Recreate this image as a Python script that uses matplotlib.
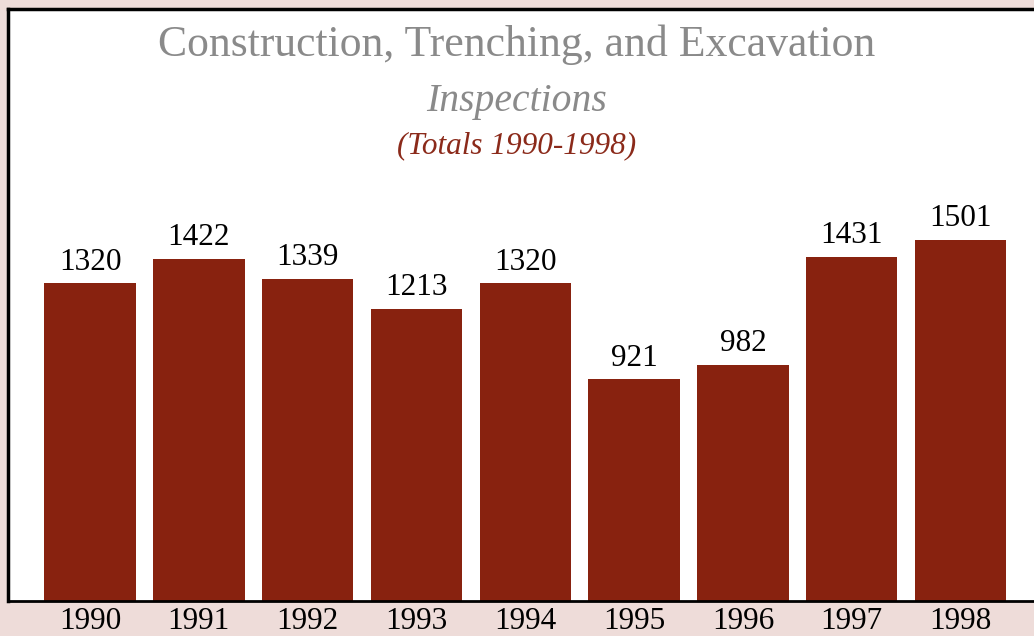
import matplotlib.pyplot as plt
import numpy as np

years = ['1990', '1991', '1992', '1993', '1994', '1995', '1996', '1997', '1998']
inspections = [1320, 1422, 1339, 1213, 1320, 921, 982, 1431, 1501]

W, H = 1034, 636
bg = '#eedcd9'
bar_col = '#88220f'

plt.rcParams['font.family'] = ['Liberation Serif', 'DejaVu Serif']

fig = plt.figure(figsize=(W / 100, H / 100), dpi=100, facecolor=bg)
# axes box: left edge ~8px, top ~9px, bottom ~601px, runs past right edge
ax = fig.add_axes([8 / W, (H - 601) / H, 1040 / W - 8 / W, (601 - 9) / H])
ax.set_facecolor('white')

x = np.arange(len(years))
ax.bar(x, inspections, width=0.84, color=bar_col)
for xi, v in zip(x, inspections):
    ax.annotate(str(v), (xi, v), xytext=(0, 5), textcoords='offset points',
                ha='center', va='bottom', fontsize=22.5, color='black')

ax.set_xlim(-0.754, 8.73)
ax.set_ylim(0, 2461)
ax.set_xticks(x)
ax.set_xticklabels(years, fontsize=22.5)
ax.tick_params(axis='x', length=0, pad=4)
ax.set_yticks([])

for s in ['left', 'top']:
    ax.spines[s].set_linewidth(2.5)
ax.spines['bottom'].set_linewidth(2)
ax.spines['right'].set_visible(False)

cx = 517 / W
fig.text(cx, 1 - 45 / H, 'Construction, Trenching, and Excavation', ha='center', va='center',
         fontsize=31.5, color='#8a8a8a')
fig.text(cx, 1 - 101 / H, 'Inspections', ha='center', va='center',
         fontsize=28.5, color='#8a8a8a', style='italic')
fig.text(cx, 1 - 146 / H, '(Totals 1990-1998)', ha='center', va='center',
         fontsize=22.5, color='#8b2a1a', style='italic')

fig.savefig('out.png', dpi=100, facecolor=bg)
